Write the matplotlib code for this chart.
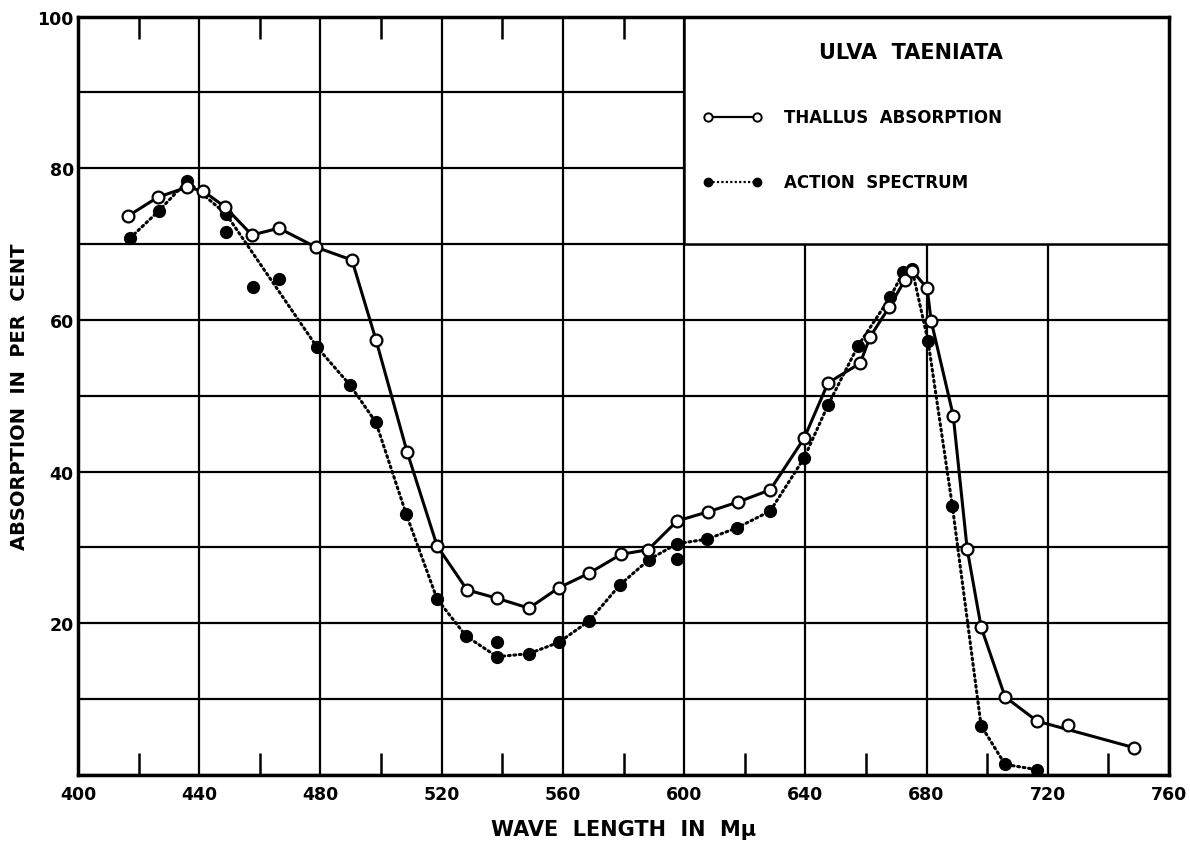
import matplotlib
matplotlib.use("Agg")
import matplotlib.pyplot as plt
from matplotlib.patches import Rectangle
import numpy as np

plt.rcParams['font.family'] = ['DejaVu Sans']

# ---- data ----
thallus_wl = [416.5, 426.4, 436.0, 441.3, 448.5, 457.4, 466.3, 478.5, 490.4, 498.3,
              508.6, 518.5, 528.4, 538.3, 548.8, 558.7, 568.6, 579.2, 588.1, 597.7,
              607.9, 617.8, 628.4, 639.6, 647.5, 658.1, 661.4, 667.7, 672.9, 675.2,
              680.2, 681.5, 688.8, 693.4, 698.0, 705.9, 716.5, 726.7, 748.5]
thallus_abs = [73.7, 76.2, 77.5, 77.0, 74.9, 71.2, 72.1, 69.6, 67.9, 57.4,
               42.6, 30.2, 24.4, 23.3, 22.0, 24.7, 26.6, 29.1, 29.7, 33.5,
               34.7, 36.0, 37.6, 44.4, 51.7, 54.3, 57.8, 61.7, 65.3, 66.5,
               64.2, 59.9, 47.4, 29.8, 19.5, 10.3, 7.1, 6.6, 3.6]
# 1 = point lies on the drawn curve, 0 = isolated point
thallus_on = [1, 1, 1, 1, 1, 1, 1, 1, 1, 1,
              1, 1, 1, 1, 1, 1, 1, 1, 1, 1,
              1, 1, 1, 1, 1, 1, 1, 1, 1, 1,
              1, 1, 1, 1, 1, 1, 1, 0, 1]

action_wl = [417.2, 426.7, 436.0, 448.8, 448.8, 457.8, 466.3, 478.9, 489.8, 498.3,
             508.3, 518.5, 528.1, 538.3, 538.3, 548.8, 558.7, 568.6, 578.9, 588.4,
             597.7, 597.7, 607.6, 617.5, 628.4, 639.6, 647.5, 657.4, 668.0, 672.3,
             675.2, 680.5, 688.5, 698.0, 705.9, 716.5]
action_val = [70.8, 74.4, 78.3, 74.0, 71.6, 64.4, 65.4, 56.4, 51.4, 46.5,
              34.4, 23.2, 18.3, 17.5, 15.6, 16.0, 17.5, 20.3, 25.1, 28.4,
              30.5, 28.5, 31.1, 32.6, 34.8, 41.8, 48.8, 56.6, 63.0, 66.3,
              66.7, 57.2, 35.5, 6.5, 1.4, 0.7]
action_on = [1, 1, 1, 1, 0, 0, 0, 1, 1, 1,
             1, 1, 1, 0, 1, 1, 1, 1, 1, 1,
             1, 0, 1, 1, 1, 1, 1, 1, 1, 1,
             1, 1, 1, 1, 1, 1]

x_ticks = [400, 440, 480, 520, 560, 600, 640, 680, 720, 760]
y_ticks = [20, 40, 60, 80, 100]

title_text = "ULVA  TAENIATA"
label_thallus = "THALLUS  ABSORPTION"
label_action = "ACTION  SPECTRUM"
xlabel = "WAVE  LENGTH  IN  M\u03bc"
ylabel = "ABSORPTION  IN  PER  CENT"

# ---- figure ----
fig = plt.figure(figsize=(11.9, 8.45), dpi=100)
ax = fig.add_axes([78/1190, 1-776/845, (1169-78)/1190, (776-17.6)/845])
ax.set_xlim(400, 760)
ax.set_ylim(0, 100)

tw = np.array(thallus_wl); ta = np.array(thallus_abs); ton = np.array(thallus_on, bool)
aw = np.array(action_wl); av = np.array(action_val); aon = np.array(action_on, bool)

ax.plot(tw[ton], ta[ton], color='black', lw=2.2, ls='-', zorder=3)
ax.plot(aw[aon], av[aon], color='black', lw=2.2, ls=(0, (0.6, 1.2)), zorder=3,
        dash_capstyle='round')
ax.plot(aw, av, ls='none', marker='o', ms=8.5, mfc='black', mec='black', zorder=4)
ax.plot(tw, ta, ls='none', marker='o', ms=8.5, mfc='white', mec='black', mew=1.6, zorder=5)

# grid
ax.set_xticks(x_ticks)
ax.set_xticks(np.arange(420, 760, 40), minor=True)
ax.set_yticks(np.arange(0, 101, 10))
ax.set_yticklabels([str(v) if v in y_ticks else "" for v in range(0, 101, 10)])
ax.grid(True, which='major', color='black', lw=1.6)
ax.tick_params(axis='x', which='major', length=0, pad=7, labelsize=12.5)
ax.tick_params(axis='y', which='major', length=0, pad=3, labelsize=12.5)
ax.tick_params(axis='x', which='minor', direction='in', length=16, width=1.8,
               top=True, bottom=True)
for lab in ax.get_xticklabels() + ax.get_yticklabels():
    lab.set_fontweight('bold')
for s in ax.spines.values():
    s.set_linewidth(2.5)
    s.set_zorder(7)

# legend box
box = Rectangle((600, 70), 160, 30, facecolor='white', edgecolor='black', lw=1.8,
                zorder=6, clip_on=False)
ax.add_patch(box)
ax.text(675, 95.3, title_text, ha='center', va='center', fontsize=15,
        fontweight='bold', zorder=8)
ax.plot([608, 624], [86.8, 86.8], color='black', lw=1.6, marker='o', ms=6,
        mfc='white', mec='black', mew=1.4, zorder=8, clip_on=False)
ax.plot([608, 624], [78.2, 78.2], color='black', lw=1.6, ls=(0, (1, 1)), zorder=8,
        clip_on=False)
ax.plot([608, 624], [78.2, 78.2], ls='none', marker='o', ms=6, mfc='black',
        mec='black', zorder=8, clip_on=False)
ax.text(633, 86.8, label_thallus, ha='left', va='center', fontsize=12,
        fontweight='bold', zorder=8)
ax.text(633, 78.2, label_action, ha='left', va='center', fontsize=12,
        fontweight='bold', zorder=8)

ax.set_xlabel(xlabel, fontsize=15, fontweight='bold', labelpad=12)
ax.set_ylabel(ylabel, fontsize=14, fontweight='bold', labelpad=6)

fig.savefig("out.png", dpi=100)
